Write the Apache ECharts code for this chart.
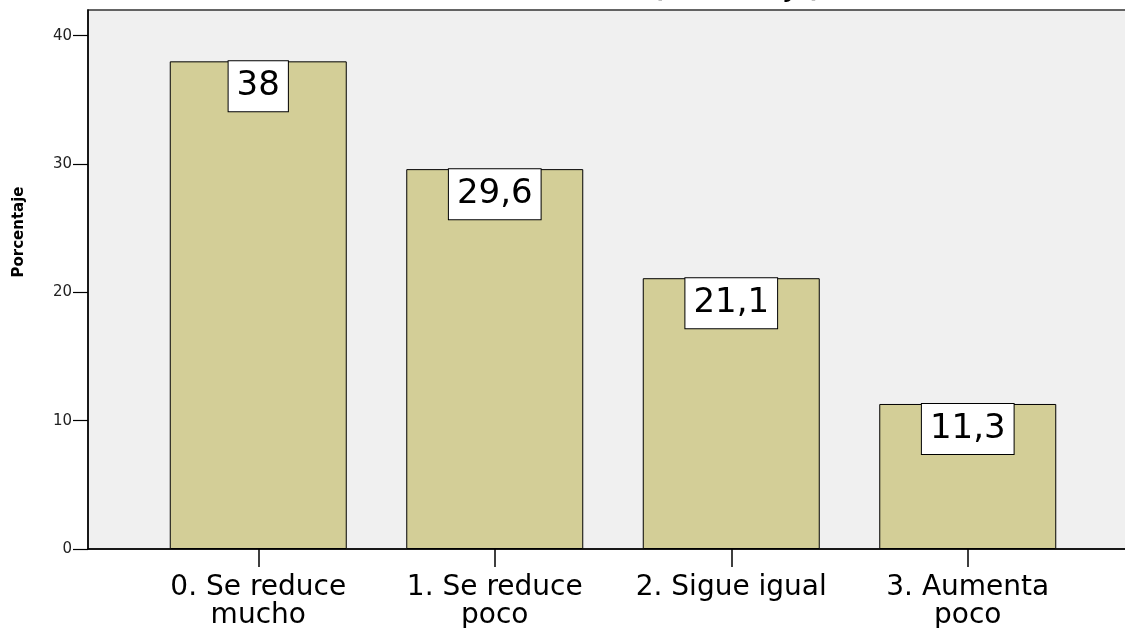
<!DOCTYPE html>
<html>
<head>
<meta charset="utf-8">
<script src="https://cdn.jsdelivr.net/npm/echarts@6/dist/echarts.min.js"></script>
<style>
html,body{margin:0;padding:0;background:#fff;}
#chart{width:1125px;height:628px;}
</style>
</head>
<body>
<div id="chart"></div>
<script>
const categories = ['0. Se reduce\nmucho', '1. Se reduce\npoco', '2. Sigue igual', '3. Aumenta\npoco'];
const values = [38, 29.6, 21.1, 11.3];
const yTicks = [0, 10, 20, 30, 40];
const yAxisName = 'Porcentaje';
const titleFragment = '(Porcentaje)';

const FONT = 'DejaVu Sans';
const chart = echarts.init(document.getElementById('chart'), null, {renderer: 'canvas'});
chart.setOption({
  animation: false,
  backgroundColor: '#ffffff',
  graphic: [
    {
      type: 'text', x: 653, y: 3,
      style: {text: titleFragment, font: 'bold 24px "DejaVu Sans"', fill: '#000', textAlign: 'left', textVerticalAlign: 'bottom'}
    },
    {
      type: 'text', x: 19, y: 232, rotation: Math.PI / 2,
      style: {text: yAxisName, font: 'bold 15px "DejaVu Sans"', fill: '#000', textAlign: 'center', textVerticalAlign: 'middle'}
    }
  ],
  grid: [
    {left: 88, right: -3, top: 10, bottom: 79, show: true, backgroundColor: '#f0f0f0', borderColor: '#333', borderWidth: 1.5, outerBoundsMode: 'none', containLabel: false},
    {left: 140, right: 39, top: 10, bottom: 79, outerBoundsMode: 'none', containLabel: false}
  ],
  xAxis: [
    {gridIndex: 0, type: 'category', data: [''],
      axisLine: {show: true, lineStyle: {color: '#000', width: 1.5}},
      axisTick: {show: false}, axisLabel: {show: false}, splitLine: {show: false}},
    {gridIndex: 1, type: 'category', data: categories,
      axisLine: {show: false},
      axisTick: {show: true, alignWithLabel: true, length: 18, lineStyle: {color: '#000', width: 1.5}},
      axisLabel: {fontFamily: FONT, fontSize: 28, color: '#000', margin: 25, lineHeight: 28, interval: 0},
      splitLine: {show: false}}
  ],
  yAxis: [
    {gridIndex: 0, type: 'value', min: 0, max: 42, interval: 10,
      axisLine: {show: true, lineStyle: {color: '#000', width: 1.5}},
      axisTick: {show: true, inside: false, length: 15, lineStyle: {color: '#000', width: 1.2}, customValues: yTicks},
      axisLabel: {fontFamily: FONT, fontSize: 15, color: '#222', margin: 16, customValues: yTicks},
      splitLine: {show: false}},
    {gridIndex: 1, type: 'value', min: 0, max: 42, interval: 10, show: false, splitLine: {show: false}}
  ],
  series: [{
    type: 'bar', xAxisIndex: 1, yAxisIndex: 1,
    data: values, barWidth: 177,
    itemStyle: {color: '#d3ce97', borderColor: '#000', borderWidth: 1},
    label: {
      show: true, position: 'insideTop', distance: 0,
      formatter: p => String(p.value).replace('.', ','),
      fontFamily: FONT, fontSize: 34, color: '#000', lineHeight: 36,
      backgroundColor: '#fff', borderColor: '#000', borderWidth: 1, padding: [7, 8, 7, 8]
    }
  }]
});
</script>
</body>
</html>
